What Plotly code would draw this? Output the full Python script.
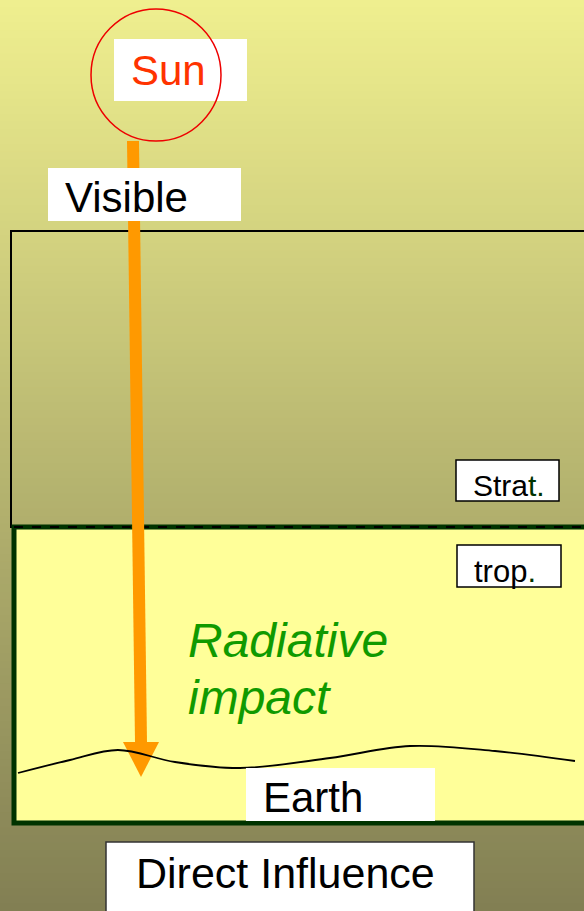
import plotly.graph_objects as go

W, H = 584, 911

# diagram content (pixel coordinates of the original slide)
earth_x = [18, 70, 118, 175, 240, 330, 410, 495, 575]
earth_y = [773, 760, 750, 762, 768, 758, 746, 751, 761]

beam_x = [133, 141]
beam_y = [141, 742]
head_x = [123, 159, 141, 123]
head_y = [742, 742, 777, 742]

labels = ["Sun", "Visible", "Strat.", "trop.", "Earth", "Direct Influence"]

FONT = "Liberation Sans, Arial, sans-serif"
ORANGE = "#FF9900"

fig = go.Figure()

# the ray from the sun
fig.add_trace(go.Scatter(x=beam_x, y=beam_y, mode="lines",
                         line=dict(color=ORANGE, width=12), hoverinfo="skip"))
fig.add_trace(go.Scatter(x=head_x, y=head_y, mode="lines", fill="toself",
                         fillcolor=ORANGE, line=dict(color=ORANGE, width=0),
                         hoverinfo="skip"))
# earth surface
fig.add_trace(go.Scatter(x=earth_x, y=earth_y, mode="lines",
                         line=dict(color="black", width=1.8, shape="spline", smoothing=1.0),
                         hoverinfo="skip"))

shapes = []
# background gradient
top = (239, 239, 143)
bot = (130, 127, 83)
n = 120
for i in range(n):
    t = i / (n - 1)
    c = tuple(round(a + (b - a) * t) for a, b in zip(top, bot))
    y0 = H * i / n
    shapes.append(dict(type="rect", layer="below", x0=0, x1=W, y0=y0, y1=y0 + H / n + 1,
                       fillcolor="rgb(%d,%d,%d)" % c, line=dict(width=0)))

# stratosphere box
shapes.append(dict(type="rect", layer="below", x0=11, x1=W + 10, y0=231, y1=527,
                   line=dict(color="black", width=2)))
# troposphere box
shapes.append(dict(type="rect", layer="below", x0=14, x1=W + 10, y0=527, y1=823,
                   fillcolor="#FFFF99", line=dict(color="#003300", width=5)))
shapes.append(dict(type="line", layer="below", x0=14, x1=W, y0=527, y1=527,
                   line=dict(color="black", width=2, dash="dash")))

# white label boxes
def box(x0, x1, y0, y1, border=None):
    shapes.append(dict(type="rect", layer="above", x0=x0, x1=x1, y0=y0, y1=y1,
                       fillcolor="white",
                       line=dict(color=border or "white", width=1.5 if border else 0)))

box(114, 247, 39, 101)
box(48, 241, 168, 221)
box(456, 559, 460, 501, "black")
box(457, 561, 545, 587, "black")
box(246, 435, 768, 821)
box(106, 474, 842, 920, "#333333")

# sun circle
shapes.append(dict(type="circle", layer="above", x0=91, x1=221, y0=9, y1=141,
                   line=dict(color="#EE0000", width=1.5)))

fig.update_layout(shapes=shapes)

def label(x, y, text, size, color="black", italic=False):
    fig.add_annotation(x=x, y=y, text=text, showarrow=False, xanchor="left", yanchor="middle",
                       font=dict(family=FONT, size=size, color=color,
                                 style="italic" if italic else "normal"))

label(129, 70, labels[0], 42, color="#FF3300")
label(63, 197, labels[1], 42)
label(471, 485, 'Stra<span style="color:#003300">t.</span>', 30)
label(472, 571, 'trop<span style="color:#003300">.</span>', 31)
label(261, 797, labels[4], 42)
label(134, 873, labels[5], 43)
label(186, 640, "Radiative", 48, color="#109A00", italic=True)
label(186, 697, "impact", 48, color="#109A00", italic=True)

fig.update_layout(
    width=W, height=H,
    margin=dict(l=0, r=0, t=0, b=0),
    paper_bgcolor="white", plot_bgcolor="white",
    showlegend=False,
    xaxis=dict(range=[0, W], visible=False, fixedrange=True),
    yaxis=dict(range=[H, 0], visible=False, fixedrange=True),
)

fig.write_html("out.html", config={"displayModeBar": False},
               post_script="document.body.style.margin='0';document.body.style.overflow='hidden';")
